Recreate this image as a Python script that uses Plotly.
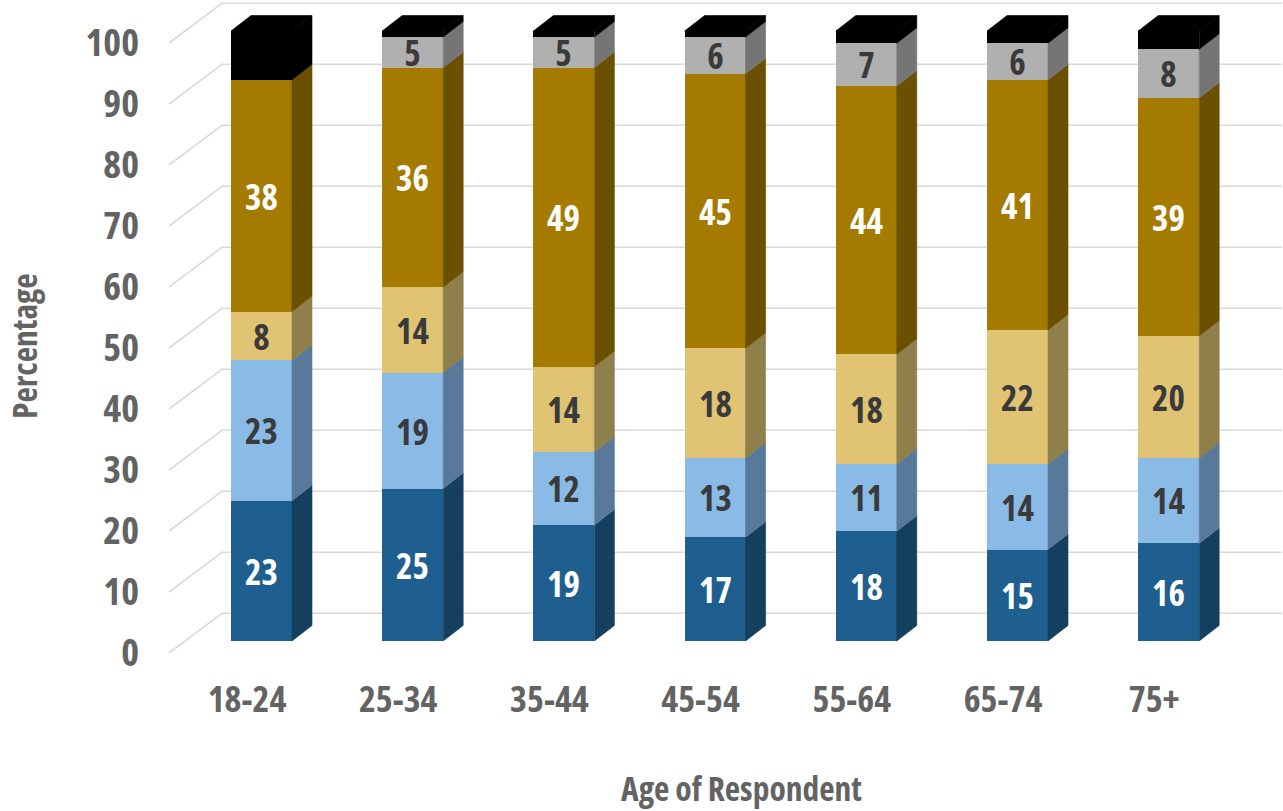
import plotly.graph_objects as go

categories = ["18-24", "25-34", "35-44", "45-54", "55-64", "65-74", "75+"]
dark_blue = [23, 25, 19, 17, 18, 15, 16]
light_blue = [23, 19, 12, 13, 11, 14, 14]
tan = [8, 14, 14, 18, 18, 22, 20]
gold = [38, 36, 49, 45, 44, 41, 39]
gray = [0, 5, 5, 6, 7, 6, 8]
black = [8, 1, 1, 1, 2, 2, 3]
y_ticks = list(range(0, 101, 10))

series = [
    ("Dark blue", dark_blue, "#1F5F8F", "#153F5E", "white"),
    ("Light blue", light_blue, "#8ABBE6", "#58799A", "#3A3A3A"),
    ("Tan", tan, "#E0C474", "#8E7F4B", "#3A3A3A"),
    ("Gold", gold, "#A47B00", "#6A5000", "white"),
    ("Gray", gray, "#B0B0B0", "#757575", "#3A3A3A"),
    ("Black", black, "#000000", "#000000", "white"),
]

W, H = 1283, 811
FONT = "Open Sans"
GREY = "#636363"

STEP = 151.2
UNIT = 6.1
BAR_W = 61 / STEP
DX = 20 / STEP
DY = 15.5 / UNIT


def xrange_for(px_at_zero):
    return [(0 - px_at_zero) / STEP, (W - px_at_zero) / STEP]


def yrange_for(px_at_zero):
    return [(px_at_zero - H) / UNIT, px_at_zero / UNIT]


fig = go.Figure()

LEAD_DY = (653 - 613.3) / UNIT
X_LEAD0 = (169 - 247) / STEP
X_LEAD1 = (222 - 247) / STEP
X_END = (1282 - 247) / STEP
gx, gy = [], []
for t in y_ticks:
    gx += [X_LEAD0, X_LEAD1, X_END, None]
    gy += [t, t + LEAD_DY, t + LEAD_DY, None]
fig.add_trace(go.Scatter(x=gx, y=gy, mode="lines", showlegend=False, hoverinfo="skip",
                         line=dict(color="#DADADA", width=1.6), xaxis="x", yaxis="y"))

for name, vals, col, side, txt in series:
    labels = [str(v) if (v > 0 and name != "Black") else "" for v in vals]
    fig.add_trace(go.Bar(x=list(range(len(categories))), y=vals, name=name, width=BAR_W,
                         marker=dict(color=col, line=dict(width=0)),
                         text=labels, textposition="inside", insidetextanchor="middle",
                         textangle=0, constraintext="none",
                         textfont=dict(family=FONT, size=35, color=txt, weight="bold"),
                         xaxis="x2", yaxis="y2", showlegend=False))

base = [0] * len(categories)
for name, vals, col, side, txt in series:
    sx, sy = [], []
    for i, v in enumerate(vals):
        r = i + BAR_W / 2
        lo, hi = base[i], base[i] + v
        if v > 0:
            sx += [r, r + DX, r + DX, r, r, None]
            sy += [lo, lo + DY, hi + DY, hi, lo, None]
    fig.add_trace(go.Scatter(x=sx, y=sy, mode="lines", fill="toself", fillcolor=side,
                             line=dict(width=0.6, color=side), showlegend=False, hoverinfo="skip",
                             xaxis="x2", yaxis="y2"))
    base = [b + v for b, v in zip(base, vals)]

tx, ty = [], []
for i, top in enumerate(base):
    l, r = i - BAR_W / 2, i + BAR_W / 2
    tx += [l, l + DX, r + DX, r, l, None]
    ty += [top, top + DY, top + DY, top, top, None]
fig.add_trace(go.Scatter(x=tx, y=ty, mode="lines", fill="toself", fillcolor="#000000",
                         line=dict(width=0.6, color="#000000"), showlegend=False, hoverinfo="skip",
                         xaxis="x2", yaxis="y2"))

fig.update_layout(
    width=W, height=H, autosize=False,
    margin=dict(l=0, r=0, t=0, b=0),
    paper_bgcolor="white", plot_bgcolor="white",
    barmode="stack", bargap=0,
    showlegend=False,
    xaxis=dict(domain=[0, 1], range=xrange_for(247), tickmode="array",
               tickvals=list(range(len(categories))), ticktext=categories,
               anchor="free", position=1 - 675 / H, side="bottom",
               showgrid=False, zeroline=False, showline=False, ticks="",
               automargin=False,
               tickfont=dict(family=FONT, size=36, color=GREY, weight="bold")),
    yaxis=dict(domain=[0, 1], range=yrange_for(653), tickmode="array",
               tickvals=y_ticks, ticktext=[str(t) for t in y_ticks],
               anchor="free", position=139 / W, side="left",
               showgrid=False, zeroline=False, showline=False, ticks="",
               automargin=False,
               tickfont=dict(family=FONT, size=38, color=GREY, weight="bold")),
    xaxis2=dict(domain=[0, 1], range=xrange_for(261.5), overlaying="x", visible=False,
                anchor="y2"),
    yaxis2=dict(domain=[0, 1], range=yrange_for(641), overlaying="y", visible=False,
                anchor="x2"),
    annotations=[
        dict(text="<b>Age of Respondent</b>", xref="paper", yref="paper",
             x=741 / W, y=1 - 787.5 / H, xanchor="center", yanchor="middle", showarrow=False,
             font=dict(family=FONT, size=33.5, color=GREY)),
        dict(text="<b>Percentage</b>", xref="paper", yref="paper",
             x=23.5 / W, y=1 - 346 / H, xanchor="center", yanchor="middle", showarrow=False,
             textangle=-90, font=dict(family=FONT, size=33.5, color=GREY)),
    ],
)

fig.write_html("out.html", config={"displayModeBar": False}, post_script=(
    "document.body.style.margin='0';"
    "var s=document.createElement('style');"
    "s.textContent='svg text{font-stretch:75%}';"
    "document.head.appendChild(s);"))
